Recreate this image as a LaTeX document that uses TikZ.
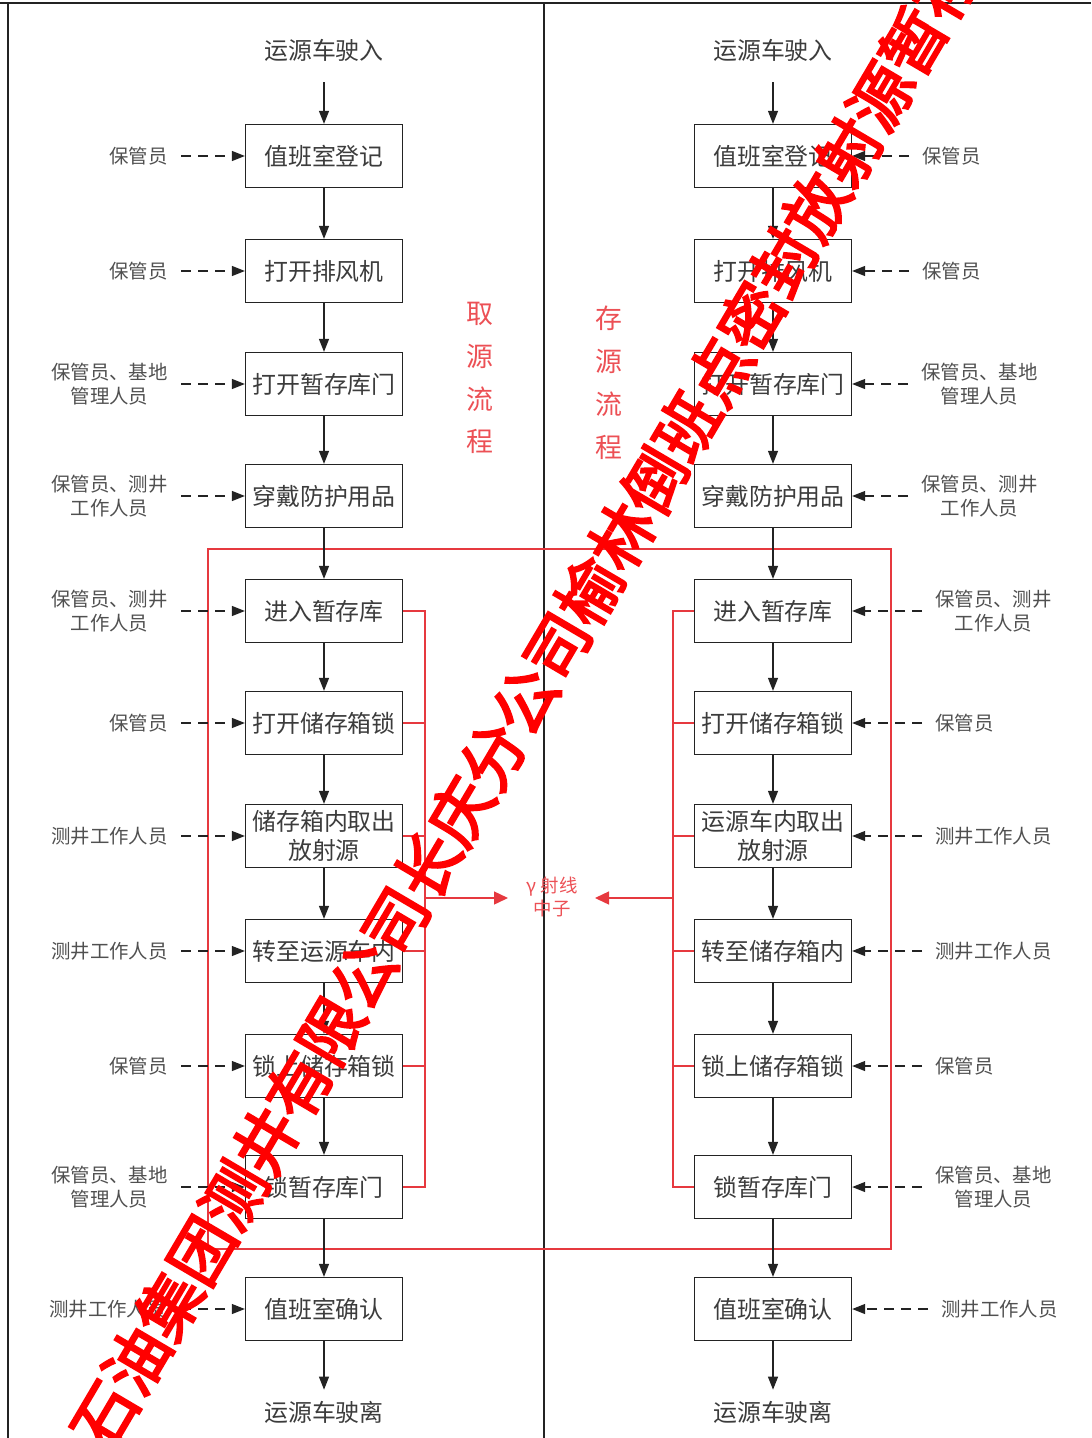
\documentclass[tikz,border=0pt]{standalone}
\usepackage{fontspec}
\setmainfont{Noto Sans CJK SC}
\newfontfamily\wmfont[FakeBold=3.5]{Noto Sans CJK SC}
\usetikzlibrary{arrows.meta,positioning}
\definecolor{boxline}{RGB}{35,35,35}
\definecolor{boxtext}{RGB}{60,60,60}
\definecolor{whotext}{RGB}{80,80,80}
\definecolor{redline}{RGB}{230,57,63}
\definecolor{redtext}{RGB}{236,80,85}

\begin{document}
\begin{tikzpicture}[x=1bp,y=-1bp,
  box/.style={draw=boxline,line width=1.3bp,minimum width=157bp,minimum height=63bp,
    inner sep=0pt,align=center,text=boxtext,font=\fontsize{24}{29}\selectfont},
  title/.style={inner sep=0pt,text=boxtext,font=\fontsize{24}{29}\selectfont},
  who/.style={inner sep=0pt,align=center,text=whotext,font=\fontsize{19.5}{24}\selectfont},
  flow/.style={draw=boxline,line width=1.2bp,-{Triangle[length=13bp,width=10bp]}},
  duty/.style={flow,dash pattern=on 10bp off 7bp,shorten <=13bp},
  redbar/.style={draw=redline,line width=1.4bp},
  redflow/.style={redbar,-{Triangle[length=14bp,width=13bp]}},
  redword/.style={inner sep=0pt,align=center,text=redtext},
  wm/.style={inner sep=0pt,text=red,font=\wmfont\fontsize{64}{64}\selectfont}]

\useasboundingbox (0,0) rectangle (1091,1438);
\clip (0,0) rectangle (1091,1438);

\draw[boxline,line width=1.4bp] (0,3) -- (1091,3);
\draw[boxline,line width=1.4bp] (8,3) -- (8,1438);
\draw[boxline,line width=1.4bp] (544,3) -- (544,1438);
\draw[redbar] (208,549) rectangle (891,1249);

% left: take source
\node[title] (Lin) at (324,50) {运源车驶入};
\node[box] (L1) at (324,156) {值班室登记};
\node[box] (L2) at (324,271) {打开排风机};
\node[box] (L3) at (324,384) {打开暂存库门};
\node[box] (L4) at (324,496) {穿戴防护用品};
\node[box] (L5) at (324,611) {进入暂存库};
\node[box] (L6) at (324,723) {打开储存箱锁};
\node[box] (L7) at (324,836) {储存箱内取出\\放射源};
\node[box] (L8) at (324,951) {转至运源车内};
\node[box] (L9) at (324,1066) {锁上储存箱锁};
\node[box] (L10) at (324,1187) {锁暂存库门};
\node[box] (L11) at (324,1309) {值班室确认};
\node[title] (Lout) at (324,1412) {运源车驶离};

\node[who,anchor=east] (LW1) at (168,156) {保管员};
\node[who,anchor=east] (LW2) at (168,271) {保管员};
\node[who,anchor=east] (LW3) at (168,384) {保管员、基地\\管理人员};
\node[who,anchor=east] (LW4) at (168,496) {保管员、测井\\工作人员};
\node[who,anchor=east] (LW5) at (168,611) {保管员、测井\\工作人员};
\node[who,anchor=east] (LW6) at (168,723) {保管员};
\node[who,anchor=east] (LW7) at (168,836) {测井工作人员};
\node[who,anchor=east] (LW8) at (168,951) {测井工作人员};
\node[who,anchor=east] (LW9) at (168,1066) {保管员};
\node[who,anchor=east] (LW10) at (168,1187) {保管员、基地\\管理人员};
\node[who,anchor=east] (LW11) at (166,1309) {测井工作人员};

% right: store source
\node[title] (Rin) at (773,50) {运源车驶入};
\node[box] (R1) at (773,156) {值班室登记};
\node[box] (R2) at (773,271) {打开排风机};
\node[box] (R3) at (773,384) {打开暂存库门};
\node[box] (R4) at (773,496) {穿戴防护用品};
\node[box] (R5) at (773,611) {进入暂存库};
\node[box] (R6) at (773,723) {打开储存箱锁};
\node[box] (R7) at (773,836) {运源车内取出\\放射源};
\node[box] (R8) at (773,951) {转至储存箱内};
\node[box] (R9) at (773,1066) {锁上储存箱锁};
\node[box] (R10) at (773,1187) {锁暂存库门};
\node[box] (R11) at (773,1309) {值班室确认};
\node[title] (Rout) at (773,1412) {运源车驶离};

\node[who,anchor=west] (RW1) at (922,156) {保管员};
\node[who,anchor=west] (RW2) at (922,271) {保管员};
\node[who,anchor=west] (RW3) at (921,384) {保管员、基地\\管理人员};
\node[who,anchor=west] (RW4) at (921,496) {保管员、测井\\工作人员};
\node[who,anchor=west] (RW5) at (935,611) {保管员、测井\\工作人员};
\node[who,anchor=west] (RW6) at (935,723) {保管员};
\node[who,anchor=west] (RW7) at (935,836) {测井工作人员};
\node[who,anchor=west] (RW8) at (935,951) {测井工作人员};
\node[who,anchor=west] (RW9) at (935,1066) {保管员};
\node[who,anchor=west] (RW10) at (935,1187) {保管员、基地\\管理人员};
\node[who,anchor=west] (RW11) at (941,1309) {测井工作人员};

\node[redword,font=\fontsize{27}{43}\selectfont] (take) at (480,378) {取\\源\\流\\程};
\node[redword,font=\fontsize{27}{43}\selectfont] (store) at (609,383) {存\\源\\流\\程};
\node[redword,font=\fontsize{18.5}{24}\selectfont] (ray) at (552,897) {γ 射线\\中子};

% main flow
\draw[flow,shorten <=21bp] (Lin) -- (L1);
\draw[flow] (L1) -- (L2);
\draw[flow] (L2) -- (L3);
\draw[flow] (L3) -- (L4);
\draw[flow] (L4) -- (L5);
\draw[flow] (L5) -- (L6);
\draw[flow] (L6) -- (L7);
\draw[flow] (L7) -- (L8);
\draw[flow] (L8) -- (L9);
\draw[flow] (L9) -- (L10);
\draw[flow] (L10) -- (L11);
\draw[flow,shorten >=11bp] (L11) -- (Lout);

\draw[flow,shorten <=21bp] (Rin) -- (R1);
\draw[flow] (R1) -- (R2);
\draw[flow] (R2) -- (R3);
\draw[flow] (R3) -- (R4);
\draw[flow] (R4) -- (R5);
\draw[flow] (R5) -- (R6);
\draw[flow] (R6) -- (R7);
\draw[flow] (R7) -- (R8);
\draw[flow] (R8) -- (R9);
\draw[flow] (R9) -- (R10);
\draw[flow] (R10) -- (R11);
\draw[flow,shorten >=11bp] (R11) -- (Rout);

% who does it
\draw[duty] (LW1.east |- L1) -- (L1.west);
\draw[duty] (LW2.east |- L2) -- (L2.west);
\draw[duty] (LW3.east |- L3) -- (L3.west);
\draw[duty] (LW4.east |- L4) -- (L4.west);
\draw[duty] (LW5.east |- L5) -- (L5.west);
\draw[duty] (LW6.east |- L6) -- (L6.west);
\draw[duty] (LW7.east |- L7) -- (L7.west);
\draw[duty] (LW8.east |- L8) -- (L8.west);
\draw[duty] (LW9.east |- L9) -- (L9.west);
\draw[duty] (LW10.east |- L10) -- (L10.west);
\draw[duty,shorten <=15bp] (LW11.east |- L11) -- (L11.west);

\draw[duty] (RW1.west |- R1) -- (R1.east);
\draw[duty] (RW2.west |- R2) -- (R2.east);
\draw[duty] (RW3.west |- R3) -- (R3.east);
\draw[duty] (RW4.west |- R4) -- (R4.east);
\draw[duty] (RW5.west |- R5) -- (R5.east);
\draw[duty] (RW6.west |- R6) -- (R6.east);
\draw[duty] (RW7.west |- R7) -- (R7.east);
\draw[duty] (RW8.west |- R8) -- (R8.east);
\draw[duty] (RW9.west |- R9) -- (R9.east);
\draw[duty] (RW10.west |- R10) -- (R10.east);
\draw[duty] (RW11.west |- R11) -- (R11.east);

% radiation brackets
\coordinate (LB) at (425,898);
\coordinate (RB) at (673,898);
\coordinate (LT) at (508,898);
\coordinate (RT) at (595,898);
\draw[redbar] (L5.east) -- (L5.east -| LB) -- (L10.east -| LB) -- (L10.east);
\draw[redbar] (L6.east) -- (L6.east -| LB);
\draw[redbar] (L7.east) -- (L7.east -| LB);
\draw[redbar] (L8.east) -- (L8.east -| LB);
\draw[redbar] (L9.east) -- (L9.east -| LB);
\draw[redbar] (R5.west) -- (R5.west -| RB) -- (R10.west -| RB) -- (R10.west);
\draw[redbar] (R6.west) -- (R6.west -| RB);
\draw[redbar] (R7.west) -- (R7.west -| RB);
\draw[redbar] (R8.west) -- (R8.west -| RB);
\draw[redbar] (R9.west) -- (R9.west -| RB);
\draw[redflow] (LB) -- (LT);
\draw[redflow] (RB) -- (RT);

\node[wm,rotate=59.5] (mark) at (525,701) {石油集团测井有限公司长庆分公司榆林倒班点密封放射源暂存};
\end{tikzpicture}
\end{document}
